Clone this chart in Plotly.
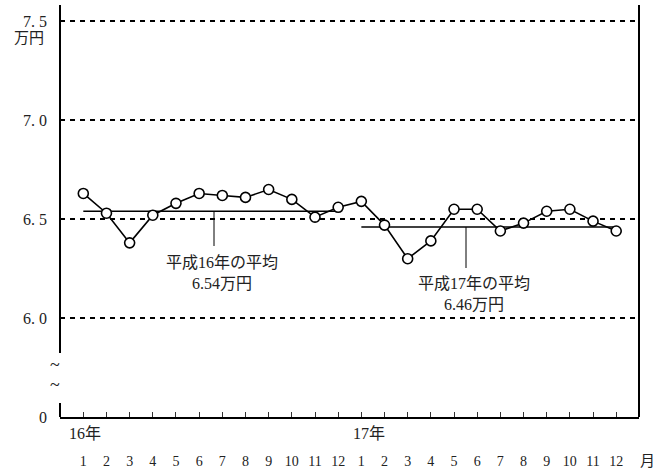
import plotly.graph_objects as go

# ---------------- data ----------------
month_labels = ["1", "2", "3", "4", "5", "6", "7", "8", "9", "10", "11", "12",
                "1", "2", "3", "4", "5", "6", "7", "8", "9", "10", "11", "12"]
price = [6.63, 6.53, 6.38, 6.52, 6.58, 6.63, 6.62, 6.61, 6.65, 6.60, 6.51, 6.56,
         6.59, 6.47, 6.30, 6.39, 6.55, 6.55, 6.44, 6.48, 6.54, 6.55, 6.49, 6.44]
year_labels = ["16年", "17年"]
year_start = [0, 12]
year_end = [11, 23]
avg_values = [6.54, 6.46]
avg_text = ["平成16年の平均<br>6.54万円", "平成17年の平均<br>6.46万円"]
y_tick_vals = [6.0, 6.5, 7.0, 7.5]
y_tick_text = ["6. 0", "6. 5", "7. 0", "7. 5"]
zero_text = "0"
unit_text = "万円"
month_unit = "月"

# ---------------- geometry helpers (pixel layout) ----------------
W, H = 669, 473
L, R, T, B = 60, 639, 5, 417          # plot area in px
X0PX, XSTEP = 83.3, 23.17             # px of index 0 and px per month
Y6PX, YUNIT = 318.0, 197.7            # px of 6.0 and px per 1.0


def xi(px):
    return (px - X0PX) / XSTEP


def yv(px):
    return 6.0 - (px - Y6PX) / YUNIT


def xp(px):
    return (px - L) / (R - L)


x_idx = list(range(len(price)))
y_bottom = yv(B)
y_top = yv(T)

FONT = "Liberation Serif, Noto Sans CJK JP, serif"
TXT = "#222222"

fig = go.Figure()

# yearly average lines
for s, e, a in zip(year_start, year_end, avg_values):
    fig.add_trace(go.Scatter(x=[x_idx[s], x_idx[e]], y=[a, a], mode="lines",
                             line=dict(color="black", width=1.6),
                             showlegend=False, hoverinfo="skip"))

# pointer lines + labels
pointer_x = [xi(214), xi(466)]
pointer_end = [yv(246), yv(268)]
label_x = [xi(222), xi(474)]
label_top = [yv(252), yv(273)]
for px_, a, pe in zip(pointer_x, avg_values, pointer_end):
    fig.add_trace(go.Scatter(x=[px_, px_], y=[a, pe], mode="lines",
                             line=dict(color="black", width=1),
                             showlegend=False, hoverinfo="skip"))

# main series
fig.add_trace(go.Scatter(x=x_idx, y=price, mode="lines+markers",
                         line=dict(color="black", width=1.6),
                         marker=dict(symbol="circle", size=10, color="white",
                                     line=dict(color="black", width=1.6)),
                         showlegend=False))

annotations = []
for lx, lt, t in zip(label_x, label_top, avg_text):
    annotations.append(dict(x=lx, y=lt, xref="x", yref="y", text=t, showarrow=False,
                            xanchor="center", yanchor="top", align="center",
                            font=dict(family=FONT, size=16, color=TXT)))

# year labels
for ys, yl, sh in zip(year_start, year_labels, [2, 8]):
    annotations.append(dict(x=ys, y=0, xref="x", yref="paper", text=yl, showarrow=False,
                            xanchor="center", yanchor="middle", xshift=sh, yshift=-(433 - B),
                            font=dict(family=FONT, size=16, color=TXT)))

# unit labels
annotations.append(dict(x=0, y=7.5, xref="paper", yref="y", text=unit_text, showarrow=False,
                        xanchor="right", yanchor="middle", xshift=-(L - 46), yshift=-(38 - 21.5),
                        font=dict(family=FONT, size=15, color=TXT)))
annotations.append(dict(x=xp(647), y=0, xref="paper", yref="paper", text=month_unit,
                        showarrow=False, xanchor="center", yanchor="middle",
                        yshift=-(461 - B), font=dict(family=FONT, size=15, color=TXT)))

# axis-break tildes
for ty in [365, 385]:
    annotations.append(dict(x=0, y=yv(ty), xref="paper", yref="y", text="~",
                            showarrow=False, xanchor="center", yanchor="middle",
                            xshift=-(L - 55), font=dict(family=FONT, size=18, color=TXT)))

shapes = [
    # left axis (broken)
    dict(type="line", xref="paper", yref="y", x0=0, x1=0, y0=yv(353), y1=y_top,
         line=dict(color="black", width=2)),
    dict(type="line", xref="paper", yref="y", x0=0, x1=0, y0=y_bottom, y1=yv(403),
         line=dict(color="black", width=2)),
    # right axis
    dict(type="line", xref="paper", yref="y", x0=1, x1=1, y0=y_bottom, y1=y_top,
         line=dict(color="black", width=2)),
]

fig.update_layout(
    template="none",
    width=W, height=H,
    margin=dict(l=L, r=W - R, t=T, b=H - B, pad=0),
    paper_bgcolor="white", plot_bgcolor="white",
    showlegend=False,
    font=dict(family=FONT, color=TXT),
    xaxis=dict(range=[xi(L), xi(R)], tickmode="array", tickvals=x_idx,
               ticktext=month_labels, ticks="inside", ticklen=5, tickwidth=1,
               tickcolor="#333333", showline=True, linecolor="black", linewidth=2,
               showgrid=False, zeroline=False, ticklabelstandoff=30, automargin=False,
               tickfont=dict(family=FONT, size=14, color=TXT)),
    yaxis=dict(range=[y_bottom, y_top], tickmode="array",
               tickvals=[y_bottom] + y_tick_vals, ticktext=[zero_text] + y_tick_text,
               ticks="", showline=False, zeroline=False, showgrid=True,
               gridcolor="black", gridwidth=2, griddash="5px,5px",
               ticklabelstandoff=12, automargin=False,
               tickfont=dict(family=FONT, size=16, color=TXT)),
    annotations=annotations,
    shapes=shapes,
)

fig.write_html("out.html", config={"displayModeBar": False},
               post_script="document.body.style.margin='0';document.body.style.overflow='hidden';")
